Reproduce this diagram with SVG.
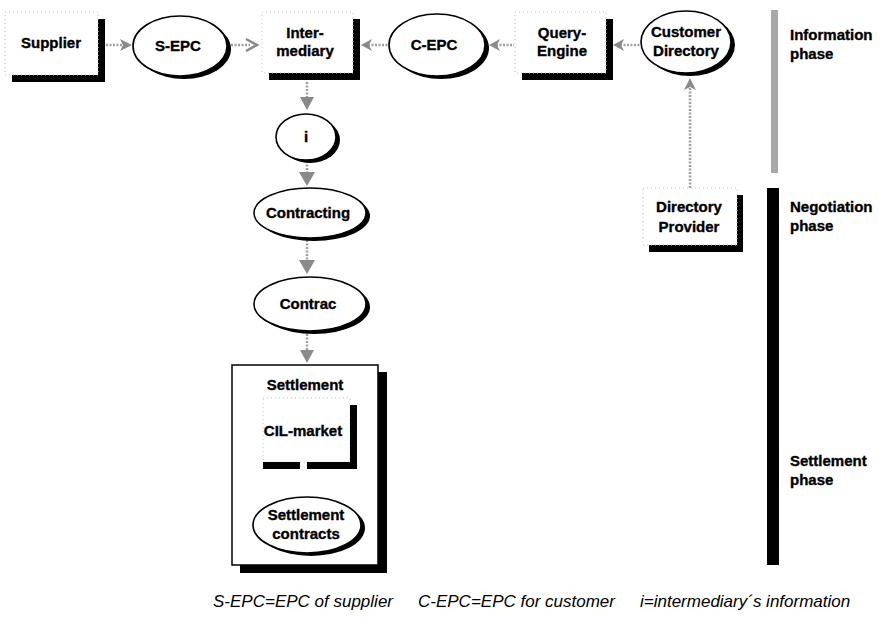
<svg xmlns="http://www.w3.org/2000/svg" width="884" height="622" viewBox="0 0 884 622">
<defs>
<style>
.box{fill:#fff;stroke:#c4c4c4;stroke-width:1;stroke-dasharray:1 3}
.sh{fill:#000}
.ell{fill:#fff;stroke:#000;stroke-width:1.6}
.lbl{font-family:"Liberation Sans",Arial,sans-serif;font-weight:bold;font-size:15px;fill:#000;stroke:#000;stroke-width:0.35;text-anchor:middle}
.ph{font-family:"Liberation Sans",Arial,sans-serif;font-weight:bold;font-size:15px;fill:#000;stroke:#000;stroke-width:0.35}
.note{font-family:"Liberation Sans",Arial,sans-serif;font-style:italic;font-size:17px;fill:#000}
.con{fill:none;stroke:#a0a0a0;stroke-width:2.5;stroke-dasharray:2 1.5}
.head{fill:#8a8a8a}
</style>
</defs>
<rect width="884" height="622" fill="#fff"/>

<g id="connectors">
  <line class="con" x1="106" y1="45" x2="124" y2="45"/>
  <polygon class="head" points="132,45 120,39 123,45 120,51"/>
  <line class="con" x1="231" y1="45" x2="250" y2="45"/>
  <polyline points="246,39 257,45 246,51" fill="none" stroke="#8a8a8a" stroke-width="2.5"/>
  <line class="con" x1="368" y1="45" x2="388" y2="45"/>
  <polygon class="head" points="361,45 372,39 369,45 372,51"/>
  <line class="con" x1="496" y1="45" x2="514" y2="45"/>
  <polygon class="head" points="489,45 500,39 497,45 500,51"/>
  <line class="con" x1="620" y1="45" x2="643" y2="45"/>
  <polygon class="head" points="613,45 624,39 621,45 624,51"/>
  <line class="con" x1="690" y1="188" x2="690" y2="86"/>
  <polygon class="head" points="690,78 684,90 690,87 696,90"/>
  <line class="con" x1="307" y1="82" x2="307" y2="100"/>
  <polygon class="head" points="307,110 300,97 314,97"/>
  <line class="con" x1="307" y1="161" x2="307" y2="174"/>
  <polygon class="head" points="307,186 299,172 315,172"/>
  <line class="con" x1="307" y1="240" x2="307" y2="262"/>
  <polygon class="head" points="307,274 299,260 315,260"/>
  <line class="con" x1="307" y1="334" x2="307" y2="352"/>
  <polygon class="head" points="307,363 300,350 314,350"/>
  <line class="con" x1="304" y1="464" x2="304" y2="484"/>
  <polygon class="head" points="304,495 298,482 310,482"/>
</g>

<g id="supplier">
  <rect class="sh" x="12" y="19" width="93" height="63"/>
  <rect class="box" x="5" y="12" width="93" height="63"/>
  <text class="lbl" x="51" y="48">Supplier</text>
</g>

<g id="s-epc">
  <ellipse class="sh" cx="184" cy="49" rx="47" ry="30"/>
  <ellipse class="ell" cx="180" cy="46" rx="47" ry="30"/>
  <text class="lbl" x="178" y="51">S-EPC</text>
</g>

<g id="intermediary">
  <rect class="sh" x="269" y="19" width="91" height="61"/>
  <rect class="box" x="262" y="12" width="91" height="61"/>
  <text class="lbl" x="305" y="38">Inter-</text>
  <text class="lbl" x="305" y="56">mediary</text>
</g>

<g id="c-epc">
  <ellipse class="sh" cx="441" cy="48" rx="48" ry="31"/>
  <ellipse class="ell" cx="437" cy="45" rx="48" ry="31"/>
  <text class="lbl" x="434" y="50">C-EPC</text>
</g>

<g id="query-engine">
  <rect class="sh" x="522" y="19" width="91" height="61"/>
  <rect class="box" x="515" y="12" width="91" height="61"/>
  <text class="lbl" x="562" y="38">Query-</text>
  <text class="lbl" x="562" y="56">Engine</text>
</g>

<g id="customer-directory">
  <ellipse class="sh" cx="690" cy="45" rx="45" ry="31"/>
  <ellipse class="ell" cx="686" cy="42" rx="45" ry="31"/>
  <text class="lbl" x="686" y="37">Customer</text>
  <text class="lbl" x="686" y="56">Directory</text>
</g>

<g id="directory-provider">
  <rect class="sh" x="649" y="195" width="94" height="57"/>
  <rect class="box" x="643" y="188" width="94" height="57"/>
  <text class="lbl" x="689" y="212">Directory</text>
  <text class="lbl" x="689" y="232">Provider</text>
</g>

<g id="i">
  <ellipse class="sh" cx="310" cy="140" rx="30" ry="23"/>
  <ellipse class="ell" cx="306" cy="137" rx="30" ry="23"/>
  <text class="lbl" x="306" y="142">i</text>
</g>

<g id="contracting">
  <ellipse class="sh" cx="314" cy="216" rx="56" ry="25"/>
  <ellipse class="ell" cx="310" cy="213" rx="56" ry="25"/>
  <text class="lbl" x="308" y="218">Contracting</text>
</g>

<g id="contrac">
  <ellipse class="sh" cx="314" cy="307" rx="56" ry="27"/>
  <ellipse class="ell" cx="310" cy="304" rx="56" ry="27"/>
  <text class="lbl" x="308" y="309">Contrac</text>
</g>

<g id="settlement">
  <rect class="sh" x="240" y="372" width="147" height="201"/>
  <rect x="232" y="365" width="146" height="200" fill="#fff" stroke="#000" stroke-width="1.5"/>
  <text class="lbl" x="305" y="390">Settlement</text>
</g>

<g id="cil-market">
  <rect class="box" x="263" y="398" width="87" height="64"/>
  <rect class="sh" x="350" y="405" width="7" height="64"/>
  <rect class="sh" x="263" y="462" width="37" height="7"/>
  <rect class="sh" x="307" y="462" width="50" height="7"/>
  <text class="lbl" x="303" y="436">CIL-market</text>
</g>

<g id="settlement-contracts">
  <ellipse class="sh" cx="311" cy="528" rx="54" ry="28"/>
  <ellipse class="ell" cx="307" cy="525" rx="54" ry="28"/>
  <text class="lbl" x="306" y="520">Settlement</text>
  <text class="lbl" x="306" y="539">contracts</text>
</g>

<g id="phases">
  <rect x="771" y="10" width="7" height="163" fill="#a8a8a8"/>
  <rect x="767" y="188" width="12" height="377" fill="#000"/>
  <text class="ph" x="790" y="40">Information</text>
  <text class="ph" x="790" y="59">phase</text>
  <text class="ph" x="790" y="212">Negotiation</text>
  <text class="ph" x="790" y="231">phase</text>
  <text class="ph" x="790" y="466">Settlement</text>
  <text class="ph" x="790" y="485">phase</text>
</g>

<g id="legend">
  <text class="note" x="213" y="607">S-EPC=EPC of supplier</text>
  <text class="note" x="418" y="607">C-EPC=EPC for customer</text>
  <text class="note" x="640" y="607">i=intermediary´s information</text>
</g>
</svg>
